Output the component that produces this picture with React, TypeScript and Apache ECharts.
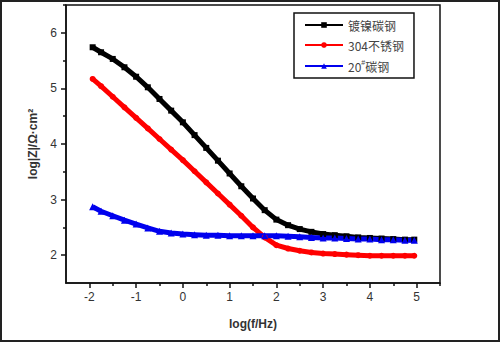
import React, { useEffect, useRef } from "react";
import * as echarts from "echarts";

const logF = [-1.93, -1.75, -1.5, -1.25, -1.0, -0.75, -0.5, -0.25, 0, 0.25, 0.5, 0.75, 1.0, 1.25, 1.5, 1.75, 2.0, 2.25, 2.5, 2.75, 3.0, 3.25, 3.5, 3.75, 4.0, 4.25, 4.5, 4.75, 4.95];

const niPlated = [5.74, 5.65, 5.53, 5.38, 5.21, 5.02, 4.81, 4.60, 4.39, 4.16, 3.93, 3.70, 3.47, 3.24, 3.02, 2.81, 2.64, 2.54, 2.47, 2.42, 2.38, 2.36, 2.34, 2.32, 2.31, 2.30, 2.29, 2.28, 2.28];
const ss304 = [5.17, 5.04, 4.85, 4.66, 4.47, 4.28, 4.09, 3.90, 3.71, 3.51, 3.31, 3.11, 2.91, 2.71, 2.50, 2.32, 2.18, 2.12, 2.08, 2.05, 2.03, 2.02, 2.01, 2.00, 1.99, 1.99, 1.99, 1.99, 1.99];
const carbon20 = [2.87, 2.79, 2.71, 2.63, 2.56, 2.49, 2.43, 2.40, 2.38, 2.37, 2.36, 2.36, 2.35, 2.35, 2.35, 2.35, 2.35, 2.34, 2.33, 2.32, 2.31, 2.31, 2.30, 2.29, 2.29, 2.28, 2.28, 2.27, 2.27];

const seriesNames = ["镀镍碳钢", "304不锈钢", "20#碳钢"];
const xMajor = [-2, -1, 0, 1, 2, 3, 4, 5];
const xMinor = [-1.5, -0.5, 0.5, 1.5, 2.5, 3.5, 4.5, 5.5];
const yMajor = [2, 3, 4, 5, 6];
const yMinor = [2.5, 3.5, 4.5, 5.5, 6.5];

const FONT = "'Liberation Sans', Arial, sans-serif";
const CJK = "'Noto Sans CJK SC', 'Liberation Sans', sans-serif";

export default function App() {
  const ref = useRef<HTMLDivElement>(null);
  useEffect(() => {
    if (!ref.current) return;
    const chart = echarts.init(ref.current, undefined, { renderer: "svg" });
    const pairs = (ys: number[]) => logF.map((x, i) => [x, ys[i]]);
    const axisLine = { show: true, onZero: false, lineStyle: { color: "#111", width: 1.5 } };
    const tickStyle = { color: "#111", width: 1.5 };
    chart.setOption({
      animation: false,
      backgroundColor: "#fff",
      grid: {
        left: 66,
        right: 60,
        top: 5,
        bottom: 59,
        show: true,
        borderColor: "#111",
        borderWidth: 1.5,
        backgroundColor: "transparent",
      },
      legend: {
        orient: "vertical",
        left: 294,
        top: 13,
        width: 143,
        padding: [6, 10, 6, 10],
        borderColor: "#111",
        borderWidth: 1.5,
        backgroundColor: "#fff",
        itemWidth: 38,
        itemHeight: 7,
        itemGap: 8,
        data: seriesNames,
        formatter: (name: string) => (name === "20#碳钢" ? "20{sup|#}碳钢" : name),
        textStyle: {
          fontFamily: CJK,
          fontSize: 12,
          color: "#444",
          rich: {
            sup: { fontSize: 7, fontFamily: FONT, color: "#444", padding: [0, 0, 7, 0] },
          },
        },
      },
      xAxis: [
        {
          type: "value",
          min: -2.5,
          max: 5.5,
          position: "bottom",
          name: "log(f/Hz)",
          nameLocation: "middle",
          nameGap: 35,
          nameTextStyle: { fontFamily: FONT, fontSize: 12, color: "#333", fontWeight: "bold" },
          axisLine,
          axisTick: { show: true, customValues: xMajor, length: 5, lineStyle: tickStyle },
          axisLabel: { customValues: xMajor, fontFamily: FONT, fontSize: 12, color: "#333", margin: 8 },
          splitLine: { show: false },
        },
        {
          type: "value",
          min: -2.5,
          max: 5.5,
          position: "bottom",
          axisLine: { show: false, onZero: false },
          axisTick: { show: true, customValues: xMinor, length: 3, lineStyle: tickStyle },
          axisLabel: { show: false },
          splitLine: { show: false },
        },
      ],
      yAxis: [
        {
          type: "value",
          min: 1.5,
          max: 6.5,
          position: "left",
          name: "log|Z|/Ω·cm²",
          nameLocation: "middle",
          nameGap: 26,
          nameTextStyle: { fontFamily: FONT, fontSize: 12, color: "#333", fontWeight: "bold" },
          axisLine,
          axisTick: { show: true, customValues: yMajor, length: 5, lineStyle: tickStyle },
          axisLabel: { customValues: yMajor, fontFamily: FONT, fontSize: 12, color: "#333", margin: 9 },
          splitLine: { show: false },
        },
        {
          type: "value",
          min: 1.5,
          max: 6.5,
          position: "left",
          axisLine: { show: false, onZero: false },
          axisTick: { show: true, customValues: yMinor, length: 3, lineStyle: tickStyle },
          axisLabel: { show: false },
          splitLine: { show: false },
        },
      ],
      series: [
        {
          name: seriesNames[0],
          type: "line",
          data: pairs(niPlated),
          symbol: "rect",
          symbolSize: 6,
          color: "#000000",
          lineStyle: { width: 5 },
        },
        {
          name: seriesNames[1],
          type: "line",
          data: pairs(ss304),
          symbol: "circle",
          symbolSize: 6,
          color: "#ff0000",
          lineStyle: { width: 5 },
        },
        {
          name: seriesNames[2],
          type: "line",
          data: pairs(carbon20),
          symbol: "triangle",
          symbolSize: 7,
          color: "#0000ee",
          lineStyle: { width: 5 },
        },
      ],
      graphic: [
        {
          type: "rect",
          shape: { x: 1, y: 1, width: 498, height: 340 },
          style: { fill: "none", stroke: "#222", lineWidth: 2 },
          silent: true,
          z: 100,
        },
      ],
    });
    return () => chart.dispose();
  }, []);
  return (
    <div
      ref={ref}
      style={{ position: "fixed", left: 0, top: 0, width: 500, height: 342 }}
    />
  );
}
